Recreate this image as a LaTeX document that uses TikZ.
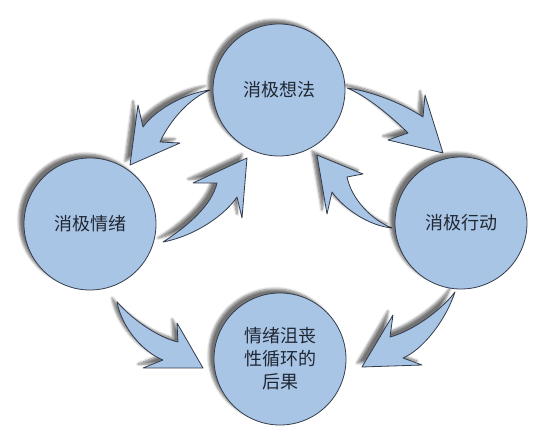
\documentclass[tikz,border=0pt]{standalone}
\usepackage{fontspec}
\newfontfamily\cjk{Noto Sans CJK SC}
\usetikzlibrary{shadows.blur}
\definecolor{cfill}{RGB}{169,197,229}
\definecolor{cline}{RGB}{52,60,76}
\definecolor{ctext}{RGB}{32,40,52}
\tikzset{
  shad/.style={blur shadow={shadow xshift=-5pt, shadow yshift=4pt, shadow blur steps=6, shadow opacity=55, shadow blur radius=2.5pt}},
  bubble/.style={circle, minimum size=132pt, inner sep=0pt, fill=cfill, draw=cline, line width=0.8pt, shad,
    font=\cjk\fontsize{18}{23}\selectfont, text=ctext, align=center},
  bigarrow/.style={fill=cfill, draw=cline, line width=0.8pt, line join=round, shad}
}
\begin{document}
\begin{tikzpicture}[x=1pt, y=-1pt]
\useasboundingbox (0,0) rectangle (549,435);
% arrows
% top -> left
\draw[bigarrow] (210,90) .. controls (185,93) and (155,110) .. (143,127) -- (138,105) -- (130,165) -- (180,143) -- (160,142) .. controls (170,120) and (190,98) .. (210,90) -- cycle;
% left -> top
\draw[bigarrow] (163,242) .. controls (188,226) and (212,205) .. (217,183) -- (193,183) -- (247,158) -- (242,218) -- (237,197) .. controls (225,215) and (195,236) .. (163,242) -- cycle;
% top -> right
\draw[bigarrow] (347,88) .. controls (375,92) and (405,105) .. (423,117) -- (425,95) -- (443,153) -- (388,140) -- (408,133) .. controls (390,115) and (365,95) .. (347,88) -- cycle;
% right -> top
\draw[bigarrow] (392,228) .. controls (372,220) and (352,200) .. (347,177) -- (363,174) -- (317,155) -- (327,214) -- (332,192) .. controls (345,210) and (370,226) .. (392,228) -- cycle;
% left -> bottom
\draw[bigarrow] (117,302) .. controls (135,322) and (160,338) .. (178,342) -- (177,323) -- (203,368) -- (143,368) -- (163,360) .. controls (143,352) and (122,328) .. (117,302) -- cycle;
% right -> bottom
\draw[bigarrow] (455,292) .. controls (440,312) and (410,332) .. (390,337) -- (393,315) -- (362,367) -- (422,365) -- (403,358) .. controls (422,350) and (445,322) .. (455,292) -- cycle;
% circles
\node[bubble] (thought) at (279,90) {消极想法};
\node[bubble] (emotion) at (90,224) {消极情绪};
\node[bubble] (action) at (461,223) {消极行动};
\node[bubble] (result) at (280,359) {情绪沮丧\\性循环的\\后果};
\end{tikzpicture}
\end{document}
